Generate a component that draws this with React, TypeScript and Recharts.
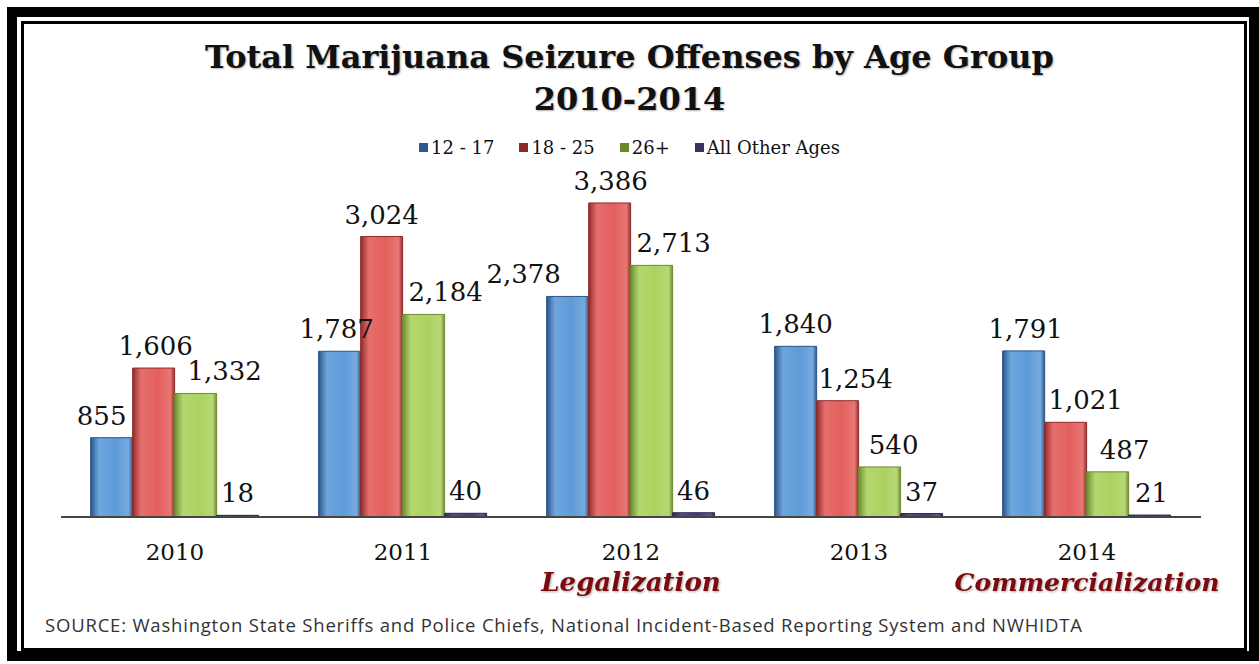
import { BarChart, Bar, XAxis, YAxis, Legend, LabelList } from 'recharts';

const YEARS = ['2010', '2011', '2012', '2013', '2014'];
const EVENTS = ['', '', 'Legalization', '', 'Commercialization'];
const AGE_12_17 = [855, 1787, 2378, 1840, 1791];
const AGE_18_25 = [1606, 3024, 3386, 1254, 1021];
const AGE_26_PLUS = [1332, 2184, 2713, 540, 487];
const AGE_OTHER = [18, 40, 46, 37, 21];

const SERIES = [
  { key: 'a', name: '12 - 17', dark: '#2b5487', light: '#5e9bd9', swatch: '#2f5a90' },
  { key: 'b', name: '18 - 25', dark: '#8f2b2b', light: '#e35f5c', swatch: '#8a2a2a' },
  { key: 'c', name: '26+', dark: '#6e8d2f', light: '#abd25f', swatch: '#6a8a2a' },
  { key: 'd', name: 'All Other Ages', dark: '#2e2650', light: '#45397a', swatch: '#3a3260' },
];

// labels in the original were hand-shifted sideways to stop overlaps
const LABEL_DX = [
  [-10, -3, -44, 0, 2],
  [2, 0, 1, 18, 20],
  [29, 22, 22, 14, 17],
  [0, 0, 0, 0, 2],
];

const data = YEARS.map((y, i) => ({
  year: y,
  a: AGE_12_17[i],
  b: AGE_18_25[i],
  c: AGE_26_PLUS[i],
  d: AGE_OTHER[i],
}));

const SERIF = '"DejaVu Serif", Georgia, serif';

function YearTick({ x, y, payload }: any) {
  const ev = EVENTS[payload.index];
  return (
    <g>
      <text x={x} y={y + 35} textAnchor="middle" fontFamily={SERIF} fontSize={23} fill="#111">
        {payload.value}
      </text>
      {ev && (
        <text
          x={x}
          y={y + 66}
          textAnchor="middle"
          fontFamily={SERIF}
          fontSize={ev.length > 12 ? 25 : 26}
          fontWeight="bold"
          fontStyle="italic"
          fill="#7d0a0e"
          style={{ filter: 'drop-shadow(1px 1px 1px rgba(0,0,0,0.35))' }}
        >
          {ev}
        </text>
      )}
    </g>
  );
}

const valueLabel = (s: number) => (props: any) => {
  const { x, y, width, value, index } = props;
  return (
    <text
      x={x + width / 2 + LABEL_DX[s][index]}
      y={y - 13}
      textAnchor="middle"
      fontFamily={SERIF}
      fontSize={26}
      fill="#111"
    >
      {Number(value).toLocaleString('en-US')}
    </text>
  );
};

function LegendBox() {
  return (
    <div style={{ display: 'flex', justifyContent: 'center', gap: 25, fontFamily: SERIF, fontSize: 18, color: '#111' }}>
      {SERIES.map(s => (
        <span key={s.key} style={{ display: 'flex', alignItems: 'center' }}>
          <span style={{ width: 9, height: 9, background: s.swatch, marginRight: 3, display: 'inline-block' }} />
          {s.name}
        </span>
      ))}
    </div>
  );
}

export default function App() {
  return (
    <div style={{ position: 'absolute', left: 0, top: 0, width: 1259, height: 664, background: '#fff', overflow: 'hidden' }}>
      <div style={{ position: 'absolute', left: 7, top: 7, width: 1252, height: 654, border: '10px solid #000', boxSizing: 'border-box' }} />
      <div style={{ position: 'absolute', left: 21, top: 21, width: 1226, height: 630, border: '3px solid #000', boxSizing: 'border-box' }} />

      <div style={{ position: 'absolute', left: 0, top: 36, width: 1259, textAlign: 'center', fontFamily: SERIF, fontWeight: 'bold', fontSize: 32, lineHeight: '42px', color: '#111', textShadow: '1px 1px 2px rgba(0,0,0,0.3)' }}>
        Total Marijuana Seizure Offenses by Age Group
        <br />
        2010-2014
      </div>

      <div style={{ position: 'absolute', left: 0, top: 0 }}>
        <BarChart width={1259} height={664} data={data} margin={{ top: 146, right: 58, bottom: 67, left: 61 }} barCategoryGap="13%" barGap={0}>
          <defs>
            {SERIES.map(s => (
              <linearGradient key={s.key} id={`g-${s.key}`} x1="0" y1="0" x2="1" y2="0">
                <stop offset="0%" stopColor={s.dark} />
                <stop offset="20%" stopColor={s.light} stopOpacity={0.9} />
                <stop offset="60%" stopColor={s.light} />
                <stop offset="90%" stopColor={s.light} stopOpacity={0.85} />
                <stop offset="100%" stopColor={s.dark} />
              </linearGradient>
            ))}
          </defs>
          <XAxis dataKey="year" height={80} tickLine={false} axisLine={{ stroke: '#444', strokeWidth: 2 }} tick={<YearTick />} interval={0} />
          <YAxis hide domain={[0, 4000]} />
          <Legend
            verticalAlign="middle"
            align="center"
            wrapperStyle={{ top: 137, left: 0, width: 1259 }}
            content={() => <LegendBox />}
          />
          {SERIES.map((s, i) => (
            <Bar key={s.key} dataKey={s.key} name={s.name} fill={`url(#g-${s.key})`} stroke={s.dark} strokeWidth={1} isAnimationActive={false}>
              <LabelList dataKey={s.key} content={valueLabel(i)} />
            </Bar>
          ))}
        </BarChart>
      </div>

      <div style={{ position: 'absolute', left: 45, top: 612, fontFamily: '"Open Sans", sans-serif', fontSize: 18.5, letterSpacing: 0.8, color: '#333', whiteSpace: 'nowrap' }}>
        SOURCE: Washington State Sheriffs and Police Chiefs, National Incident-Based Reporting System and NWHIDTA
      </div>
    </div>
  );
}
